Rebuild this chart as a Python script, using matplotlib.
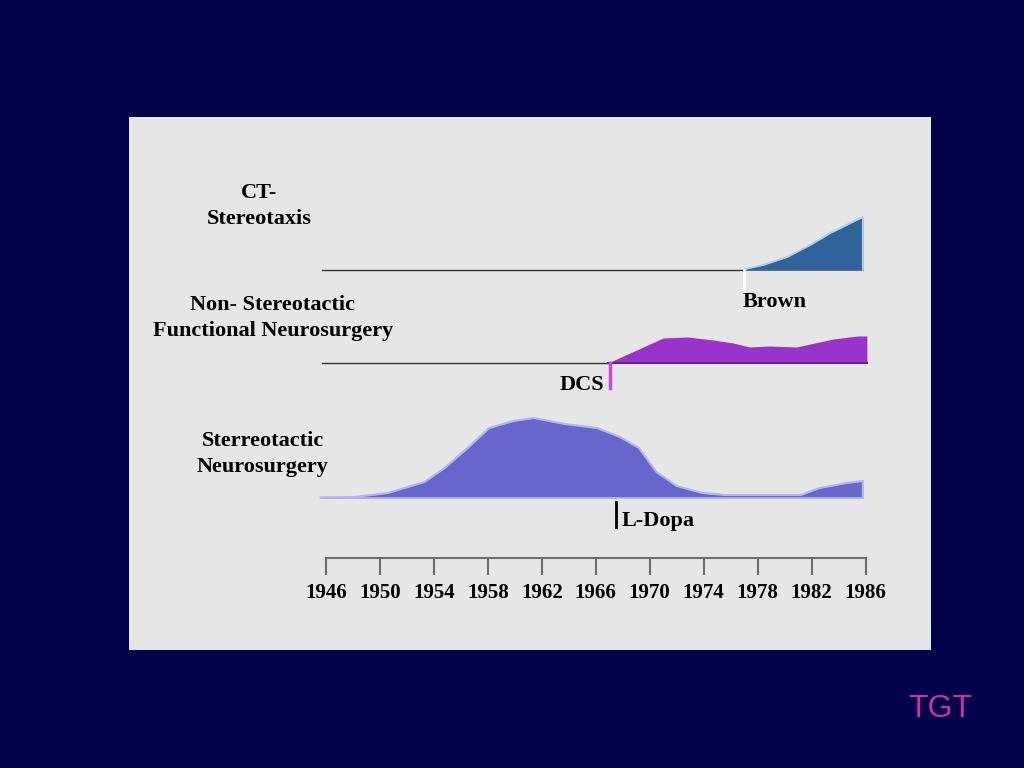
import matplotlib
matplotlib.use("Agg")
import matplotlib.pyplot as plt
from matplotlib.patches import Rectangle

# ---- data ----
tick_years = [1946, 1950, 1954, 1958, 1962, 1966, 1970, 1974, 1978, 1982, 1986]

years_stereo = [1945.6, 1948.1, 1950.6, 1953.3, 1954.8, 1956.5, 1958.1, 1959.9, 1961.4,
                1963.7, 1966.1, 1967.8, 1969.2, 1970.5, 1972.0, 1973.9, 1975.6, 1981.2,
                1982.6, 1984.6, 1985.8]
h_stereo = [0.5, 1, 5, 16, 30, 50, 70, 77, 80, 74, 70, 61, 50, 26, 12, 5, 3, 3, 10, 15, 17]

years_nonstereo = [1966.9, 1971.0, 1972.8, 1974.7, 1976.2, 1977.4, 1978.9, 1980.9,
                   1981.9, 1983.6, 1985.4, 1986.1]
h_nonstereo = [0, 25, 26, 23, 20, 16, 17, 16, 19, 24, 27, 27]

years_ct = [1977.1, 1978.4, 1980.2, 1981.9, 1983.4, 1985.8]
h_ct = [1, 5, 13, 25, 37, 53]

series_labels = ["CT-\nStereotaxis",
                 "Non- Stereotactic\nFunctional Neurosurgery",
                 "Sterreotactic\nNeurosurgery"]
event_labels = ["Brown", "DCS", "L-Dopa"]
event_years = [1977.0, 1967.05, 1967.5]

# ---- figure ----
W, H = 1024, 768
fig = plt.figure(figsize=(W / 100, H / 100), dpi=100)
fig.patch.set_facecolor("#02024a")

def fx(px):
    return px / W

def fy(py):
    return 1 - py / H

fig.patches.append(Rectangle((fx(129), fy(650)), 802 / W, 533 / H,
                             transform=fig.transFigure, facecolor="#e6e6e6",
                             edgecolor="none", zorder=-5))

ppy = 13.49  # pixels per year
left_px = 326 - ppy
right_px = 865.5 + ppy
ax = fig.add_axes([fx(left_px), fy(558), (right_px - left_px) / W, (558 - 150) / H])
ax.set_zorder(2)
ax.set_xlim(1945, 1987)
ax.set_ylim(0, 408)
ax.patch.set_visible(False)
for s in ["top", "right", "left"]:
    ax.spines[s].set_visible(False)
ax.spines["bottom"].set_bounds(1946, 1986)
ax.spines["bottom"].set_color("#6e6e6e")
ax.spines["bottom"].set_linewidth(1.5)
ax.set_yticks([])
ax.set_xticks(tick_years)
ax.set_xticklabels([str(y) for y in tick_years], fontfamily="Liberation Serif",
                   fontweight="bold", fontsize=15)
ax.tick_params(axis="x", direction="out", length=12, width=1.5, color="#6e6e6e", pad=6)

base_st, base_ns, base_ct = 60, 195, 288

# baselines
ax.plot([1945.7, years_ct[0]], [base_ct, base_ct], color="#333333", lw=1, zorder=2)
ax.plot([years_ct[0], years_ct[-1]], [base_ct, base_ct], color="#888888", lw=1.5, zorder=2)
ax.plot([1945.7, years_nonstereo[0]], [base_ns, base_ns], color="#333333", lw=1, zorder=2)

# bottom series
ax.fill_between(years_stereo, base_st, [base_st + h for h in h_stereo],
                color="#6666cc", lw=0, zorder=3, clip_on=False)
ax.plot(years_stereo + [years_stereo[-1]], [base_st + h for h in h_stereo] + [base_st],
        color="#b4b4f0", lw=1.5, zorder=4, clip_on=False)
ax.plot([years_stereo[0], years_stereo[-1]], [base_st, base_st], color="#b4b4f0",
        lw=1.2, zorder=4, clip_on=False)

# middle series
ax.fill_between(years_nonstereo, base_ns, [base_ns + h for h in h_nonstereo],
                color="#9933cc", lw=0, zorder=3, clip_on=False)
ax.plot([years_nonstereo[0], years_nonstereo[-1]], [base_ns, base_ns],
        color="#6a1f96", lw=1.5, zorder=4, clip_on=False)

# top series
ax.fill_between(years_ct, base_ct, [base_ct + h for h in h_ct],
                color="#2f6399", lw=0, zorder=3, clip_on=False)
ax.plot(years_ct + [years_ct[-1]], [base_ct + h for h in h_ct] + [base_ct],
        color="#b0cce8", lw=1.3, zorder=4, clip_on=False)

# event markers
ax.plot([event_years[0]] * 2, [base_ct, 265], color="white", lw=2, zorder=5)
ax.plot([event_years[1]] * 2, [base_ns, 170], color="#cc44ee", lw=2.5, zorder=5)
ax.plot([event_years[2]] * 2, [56, 31], color="black", lw=2, zorder=5)

tkw = dict(fontfamily="Liberation Serif", fontweight="bold", fontsize=16, color="black")
fig.text(fx(259), fy(206), series_labels[0], ha="center", va="center",
         multialignment="center", linespacing=1.4, **tkw)
fig.text(fx(273), fy(318), series_labels[1], ha="center", va="center",
         multialignment="center", linespacing=1.4, **tkw)
fig.text(fx(263), fy(454), series_labels[2], ha="center", va="center",
         multialignment="center", linespacing=1.4, **tkw)
fig.text(fx(743), fy(302), event_labels[0], ha="left", va="center", **tkw)
fig.text(fx(604), fy(385), event_labels[1], ha="right", va="center", **tkw)
fig.text(fx(622), fy(521), event_labels[2], ha="left", va="center", **tkw)

fig.text(fx(940), fy(709), "TGT", ha="center", va="center", color="#cc33a0",
         fontfamily="Liberation Sans", fontsize=23)

fig.savefig("out.png", dpi=100, facecolor=fig.get_facecolor())
